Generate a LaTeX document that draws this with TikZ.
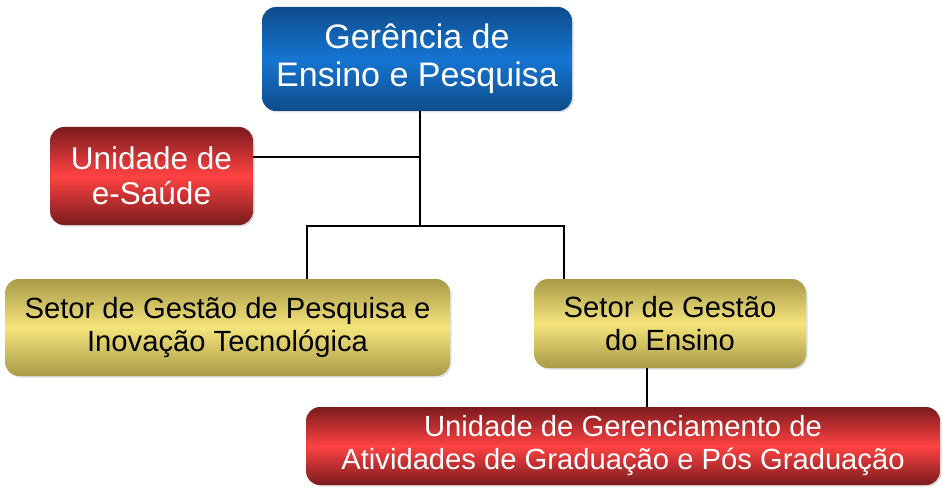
\documentclass[tikz,border=0pt]{standalone}
\usepackage{fontspec}
\setmainfont{Liberation Sans}
\usepackage{xcolor}
\usetikzlibrary{shadows}

\definecolor{bluedark}{HTML}{0E4C8B}
\definecolor{bluelight}{HTML}{1675D2}
\definecolor{reddark}{HTML}{7A1B1D}
\definecolor{redlight}{HTML}{FF4242}
\definecolor{yeldark}{HTML}{A89A48}
\definecolor{yellight}{HTML}{F5E47B}

\begin{document}
\begin{tikzpicture}[x=1pt, y=-1pt,
    box/.style={rectangle, rounded corners=14pt, align=center, inner sep=0pt,
      drop shadow={shadow xshift=1.5pt, shadow yshift=-1.5pt, opacity=0.25}},
    bluebox/.style={box, top color=bluedark, bottom color=bluedark, middle color=bluelight,
      text=white, font=\fontsize{34}{38}\selectfont},
    redbox/.style={box, top color=reddark, bottom color=reddark, middle color=redlight,
      text=white, font=\fontsize{29.2}{33}\selectfont},
    yelbox/.style={box, top color=yeldark, bottom color=yeldark, middle color=yellight,
      text=black, font=\fontsize{29.2}{33}\selectfont},
    link/.style={line width=1.6pt}]
    \useasboundingbox (0,0) rectangle (942,489);
    % boxes
    \node [bluebox, minimum width=310pt, minimum height=104pt] (ger) at (417,59)
      {Gerência de\\Ensino e Pesquisa};
    \node [redbox, font=\fontsize{31.5}{35}\selectfont, minimum width=203pt,
      minimum height=98pt] (saude) at (151.5,176)
      {Unidade de\\e-Saúde};
    \node [yelbox, minimum width=445pt, minimum height=97pt] (pesq) at (227.5,327.5)
      {Setor de Gestão de Pesquisa e\\Inovação Tecnológica};
    \node [yelbox, minimum width=272pt, minimum height=89pt] (ensino) at (670,323.5)
      {Setor de Gestão\\do Ensino};
    \node [redbox, minimum width=634pt, minimum height=78pt] (grad) at (623,446)
      {Unidade de Gerenciamento de\\Atividades de Graduação e Pós Graduação};
    % connectors
    \coordinate (mid) at (420,157);
    \coordinate (fork) at (420,226);
    \coordinate (forkl) at (307,226);
    \coordinate (forkr) at (564,226);
    \coordinate (down) at (647,368);
    \draw [link] (ger.south -| fork) -- (fork);
    \draw [link] (saude.east |- mid) -- (mid);
    \draw [link] (forkl |- pesq.north) -- (forkl) -- (forkr) -- (forkr |- ensino.north);
    \draw [link] (ensino.south -| down) -- (down |- grad.north);
\end{tikzpicture}
\end{document}
